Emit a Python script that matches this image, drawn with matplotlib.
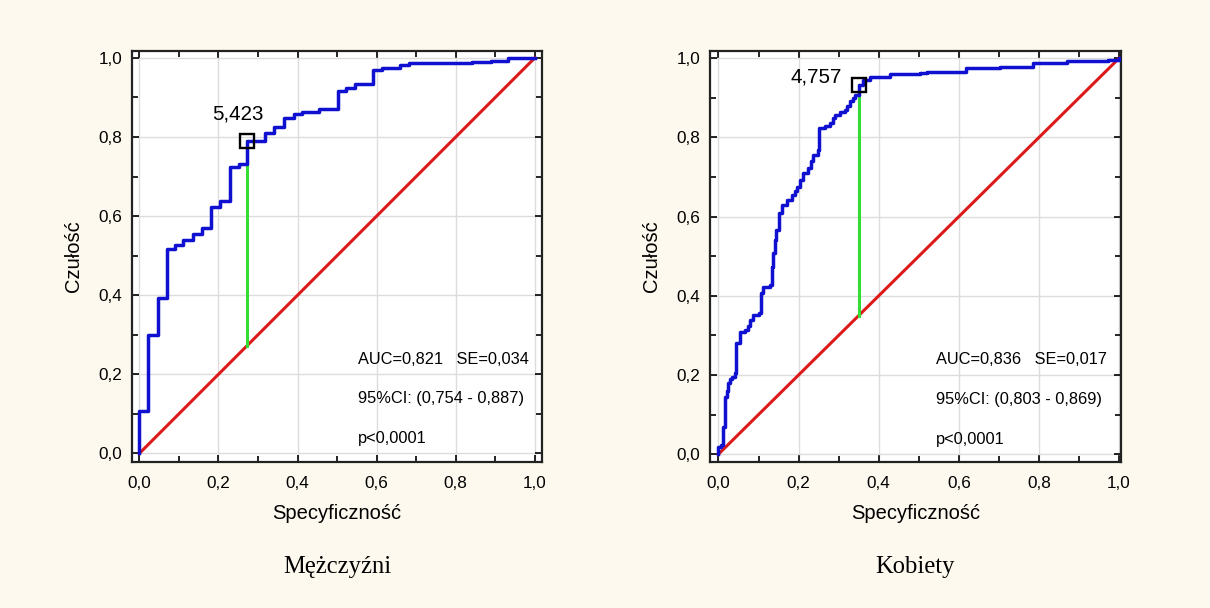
import matplotlib
matplotlib.use("Agg")
import matplotlib.pyplot as plt
from matplotlib.ticker import MultipleLocator, FuncFormatter

# Mężczyźni ROC curve (1 - specificity, sensitivity), step corners
men_x = [0, 0, 0.023, 0.046, 0.069, 0.09, 0.111, 0.135, 0.158, 0.181, 0.204, 0.228,
         0.251, 0.272, 0.318, 0.341, 0.365, 0.39, 0.411, 0.455, 0.501, 0.523, 0.546,
         0.59, 0.613, 0.66, 0.681, 0.841, 0.888, 0.932, 1.0]
men_y = [0, 0.108, 0.30, 0.394, 0.517, 0.526, 0.540, 0.554, 0.571, 0.623, 0.637, 0.724,
         0.732, 0.789, 0.810, 0.825, 0.848, 0.857, 0.862, 0.871, 0.917, 0.924, 0.934,
         0.968, 0.975, 0.981, 0.987, 0.989, 0.992, 1.0, 1.0]
men_cut = (0.272, 0.789)
men_label = "5,423"
men_stats = ["AUC=0,821   SE=0,034", "95%CI: (0,754 - 0,887)", "p<0,0001"]

# Kobiety ROC curve
women_x = [0, 0, 0.006, 0.011, 0.017, 0.022, 0.025, 0.03, 0.033, 0.042, 0.044, 0.054,
           0.067, 0.075, 0.079, 0.087, 0.102, 0.106, 0.112, 0.129, 0.133, 0.137, 0.140,
           0.144, 0.15, 0.158, 0.170, 0.183, 0.19, 0.195, 0.204, 0.212, 0.224, 0.232,
           0.237, 0.249, 0.252, 0.266, 0.278, 0.285, 0.291, 0.303, 0.316, 0.322, 0.328,
           0.335, 0.341, 0.35, 0.362, 0.378, 0.428, 0.503, 0.52, 0.619, 0.702, 0.786,
           0.869, 0.973, 1.0]
women_y = [0, 0.017, 0.023, 0.069, 0.145, 0.16, 0.179, 0.19, 0.195, 0.204, 0.280, 0.309,
           0.313, 0.325, 0.339, 0.351, 0.356, 0.406, 0.423, 0.427, 0.473, 0.507, 0.54,
           0.566, 0.608, 0.629, 0.642, 0.655, 0.665, 0.676, 0.693, 0.709, 0.722, 0.74,
           0.756, 0.768, 0.823, 0.829, 0.836, 0.848, 0.857, 0.865, 0.869, 0.88, 0.891,
           0.9, 0.907, 0.933, 0.945, 0.952, 0.96, 0.962, 0.966, 0.975, 0.979, 0.987,
           0.992, 0.996, 1.0]
women_cut = (0.35, 0.933)
women_label = "4,757"
women_stats = ["AUC=0,836   SE=0,017", "95%CI: (0,803 - 0,869)", "p<0,0001"]

BG = "#fdf9ee"
SANS = ["Liberation Sans", "DejaVu Sans"]
SERIF = ["Liberation Serif", "DejaVu Serif"]

plt.rcParams["font.family"] = SANS

fig = plt.figure(figsize=(12.1, 6.08), dpi=100, facecolor=BG)


def comma(v, pos):
    return f"{v:.1f}".replace(".", ",")


def roc_panel(rect, xs, ys, cut, label, label_xy, stats, stats_x, xlim, ylim, title):
    ax = fig.add_axes(rect)
    ax.set_facecolor("white")
    ax.plot([0, 1], [0, 1], color="#dd1a1a", lw=2.2, zorder=3)
    ax.plot([cut[0], cut[0]], [cut[0], cut[1]], color="#33dd33", lw=2.2, zorder=4)
    ax.plot(xs, ys, color="#1010d0", lw=2.5, drawstyle="steps-post", zorder=5)
    ax.plot(cut[0], cut[1], marker="s", ms=9.5, mfc="none", mec="black", mew=1.7, zorder=6)
    ax.text(label_xy[0], label_xy[1], label, fontsize=14.8, ha="center", va="center")
    for i, s in enumerate(stats):
        ax.text(stats_x, 0.238 - i * 0.1, s, fontsize=11.8, ha="left", va="center")

    ax.set_xlim(*xlim)
    ax.set_ylim(*ylim)
    for axis in (ax.xaxis, ax.yaxis):
        axis.set_major_locator(MultipleLocator(0.2))
        axis.set_minor_locator(MultipleLocator(0.1))
        axis.set_major_formatter(FuncFormatter(comma))
    ax.tick_params(which="both", direction="in", top=True, right=True, width=1.2,
                   labelsize=12.3, color="black")
    ax.tick_params(which="major", length=5)
    ax.tick_params(which="minor", length=4)
    ax.tick_params(axis="x", pad=10.5)
    ax.tick_params(axis="y", pad=7)
    ax.grid(True, which="major", color="#dcdcdc", lw=1)
    ax.set_axisbelow(True)
    for sp in ax.spines.values():
        sp.set_linewidth(1.6)
        sp.set_color("#222222")

    ax.set_xlabel("Specyficzność", fontsize=14.5)
    ax.set_ylabel("Czułość", fontsize=14.5)
    ax.xaxis.set_label_coords(0.5, -0.103)
    ax.yaxis.set_label_coords(-0.12, 0.5)
    fig.text(rect[0] + rect[2] / 2, 0.067, title, fontsize=17.7, family=SERIF,
             ha="center", va="center")
    return ax


roc_panel([0.1093, 0.2406, 0.3383, 0.676], men_x, men_y, men_cut, men_label,
          (0.25, 0.857), men_stats, 0.552, (-0.018, 1.017), (-0.021, 1.018), "Mężczyźni")
roc_panel([0.5868, 0.2406, 0.3394, 0.676], women_x, women_y, women_cut, women_label,
          (0.243, 0.952), women_stats, 0.543, (-0.021, 1.004), (-0.019, 1.019), "Kobiety")

fig.savefig("out.png", dpi=100, facecolor=BG)
